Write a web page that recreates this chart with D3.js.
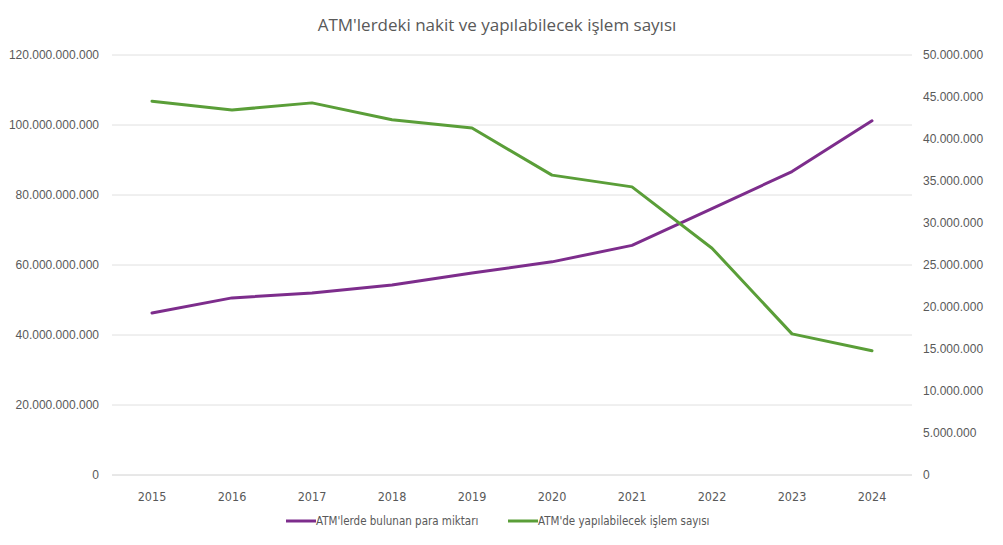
<!DOCTYPE html>
<html><head><meta charset="utf-8">
<script src="https://cdn.jsdelivr.net/npm/d3@7/dist/d3.min.js"></script>
<style>body{margin:0;background:#fff;}svg{display:block;}</style>
</head><body>
<svg id="c" width="1003" height="545"></svg>
<script>
const years = ["2015","2016","2017","2018","2019","2020","2021","2022","2023","2024"];
const cashInATM = [46.3e9, 50.6e9, 52.0e9, 54.3e9, 57.7e9, 60.9e9, 65.6e9, 76.1e9, 86.7e9, 101.2e9];
const transactionCount = [44.5e6, 43.45e6, 44.3e6, 42.3e6, 41.3e6, 35.7e6, 34.3e6, 27.0e6, 16.8e6, 14.8e6];
const leftTicks = [0, 20e9, 40e9, 60e9, 80e9, 100e9, 120e9];
const rightTicks = [0, 5e6, 10e6, 15e6, 20e6, 25e6, 30e6, 35e6, 40e6, 45e6, 50e6];
const seriesNames = ["ATM'lerde bulunan para miktarı", "ATM'de yapılabilecek işlem sayısı"];
const title = "ATM'lerdeki nakit ve yapılabilecek işlem sayısı";

(function () {
const svg = d3.select("#c");
const pl = 112, pr = 912, pt = 55, pb = 475;
const x = d3.scaleBand().domain(years).range([pl, pr]);
const yL = d3.scaleLinear().domain([0, 120e9]).range([pb, pt]);
const yR = d3.scaleLinear().domain([0, 50e6]).range([pb, pt]);
const fmt = v => d3.format(",")(v).replace(/,/g, ".");
const purple = "#7D2D8C", green = "#5A9E38", txt = "#595959";

svg.append("text").attr("x", 497).attr("y", 31).attr("text-anchor", "middle")
  .attr("font-family", "Open Sans, sans-serif").attr("font-size", 17).attr("fill", txt).text(title);

svg.append("g").selectAll("line").data(leftTicks).join("line")
  .attr("x1", pl).attr("x2", pr).attr("y1", d => yL(d)).attr("y2", d => yL(d))
  .attr("stroke", d => d === 0 ? "#d0d0d0" : "#e0e0e0").attr("stroke-width", 1);

const gL = svg.append("g").attr("transform", `translate(${pl - 13},0)`)
  .call(d3.axisLeft(yL).tickValues(leftTicks).tickFormat(fmt).tickSize(0).tickPadding(0));
gL.select(".domain").remove();
gL.selectAll("text").attr("font-family", "Liberation Sans, Arial, sans-serif").attr("font-size", 12).attr("fill", txt);

const gR = svg.append("g").attr("transform", `translate(${pr + 11},0)`)
  .call(d3.axisRight(yR).tickValues(rightTicks).tickFormat(fmt).tickSize(0).tickPadding(0));
gR.select(".domain").remove();
gR.selectAll("text").attr("font-family", "Liberation Sans, Arial, sans-serif").attr("font-size", 12).attr("fill", txt);

const gX = svg.append("g").attr("transform", `translate(0,${pb + 17})`)
  .call(d3.axisBottom(x).tickSize(0).tickPadding(0));
gX.select(".domain").remove();
gX.selectAll("text").attr("font-family", "Liberation Sans Narrow, DejaVu Sans Condensed, sans-serif")
  .attr("font-size", 12.5).attr("fill", txt).attr("font-stretch", "condensed");

const cx = d => x(d) + x.bandwidth() / 2;
svg.append("path").datum(cashInATM).attr("fill", "none").attr("stroke", purple).attr("stroke-width", 3)
  .attr("stroke-linejoin", "round").attr("stroke-linecap", "round")
  .attr("d", d3.line().x((d, i) => cx(years[i])).y(d => yL(d)));
svg.append("path").datum(transactionCount).attr("fill", "none").attr("stroke", green).attr("stroke-width", 3)
  .attr("stroke-linejoin", "round").attr("stroke-linecap", "round")
  .attr("d", d3.line().x((d, i) => cx(years[i])).y(d => yR(d)));

const leg = [{name: seriesNames[0], color: purple, x: 286}, {name: seriesNames[1], color: green, x: 508}];
const lg = svg.append("g");
leg.forEach(l => {
  lg.append("line").attr("x1", l.x).attr("x2", l.x + 30).attr("y1", 521).attr("y2", 521)
    .attr("stroke", l.color).attr("stroke-width", 3);
  lg.append("text").attr("x", l.x + 30).attr("y", 525).attr("font-family", "Liberation Sans Narrow, DejaVu Sans Condensed, sans-serif")
    .attr("font-size", 11.5).attr("fill", txt).text(l.name);
});
})();
</script>
</body></html>
